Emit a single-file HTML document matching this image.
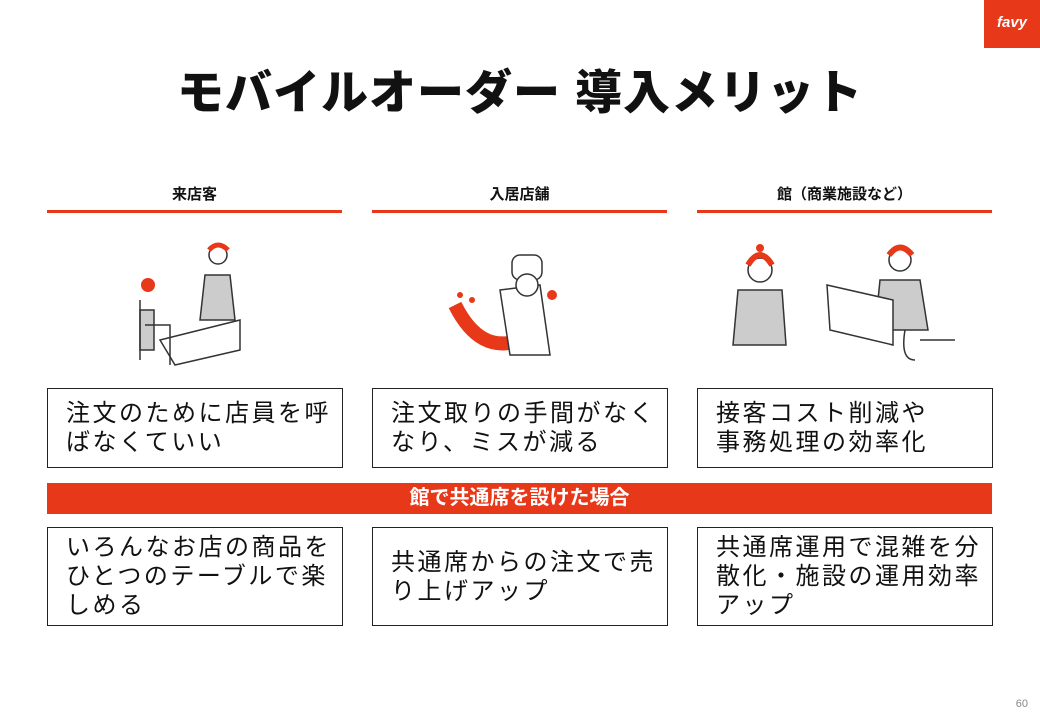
<!DOCTYPE html>
<html><head><meta charset="utf-8"><style>
body{margin:0;width:1040px;height:720px;background:#fff;position:relative;overflow:hidden;font-family:"Liberation Sans","Noto Sans CJK JP",sans-serif;color:#111}
.a{position:absolute}
.logo{left:984px;top:0;width:56px;height:48px;background:#e8381a;color:#fff;font-weight:bold;font-size:15px;text-align:center;line-height:46px;font-style:italic}
.title{left:0;width:1040px;top:54px;text-align:center;font-size:47px;font-weight:900;letter-spacing:1px}
.h{font-size:15px;font-weight:bold;text-align:center;top:183px;width:295px}
.ln{height:3px;background:#e8381a;top:210px;width:295px}
.box{border:1.5px solid #222;box-sizing:border-box;width:296px;font-size:24px;line-height:29px;padding:0 18px;display:flex;align-items:center;letter-spacing:2.5px;white-space:nowrap}
.ban{left:47px;top:483px;width:945px;height:31px;background:#e8381a;color:#fff;font-weight:bold;font-size:20px;text-align:center;line-height:31px}
.pg{right:12px;top:698px;font-size:11px;color:#888}
</style></head><body>
<div class="a logo">favy</div>
<div class="a title">モバイルオーダー 導入メリット</div>
<div class="a h" style="left:47px">来店客</div>
<div class="a h" style="left:372px">入居店舗</div>
<div class="a h" style="left:697px">館（商業施設など）</div>
<div class="a ln" style="left:47px"></div>
<div class="a ln" style="left:372px"></div>
<div class="a ln" style="left:697px"></div>
<svg class="a" style="left:0;top:230px" width="1040" height="150" fill="none" stroke="#333" stroke-width="1.5">
<g>
<path d="M160 110 L240 90 L240 120 L175 135 Z" fill="#fff"/>
<rect x="140" y="80" width="14" height="40" fill="#ccc"/>
<path d="M140 70 L140 130 M145 95 L170 95 L170 135"/>
<circle cx="148" cy="55" r="7" fill="#e8381a" stroke="none"/>
<path d="M205 45 L230 45 L235 90 L200 90 Z" fill="#ccc"/>
<circle cx="218" cy="25" r="9" fill="#fff"/>
<path d="M209 20 Q218 10 228 20" stroke="#e8381a" stroke-width="5"/>
</g>
<g>
<path d="M455 75 Q480 125 520 110" stroke="#e8381a" stroke-width="14"/>
<path d="M500 60 L540 55 L550 125 L510 125 Z" fill="#fff"/>
<rect x="512" y="25" width="30" height="25" rx="8" fill="#fff"/>
<circle cx="527" cy="55" r="11" fill="#fff"/>
<circle cx="460" cy="65" r="3" fill="#e8381a" stroke="none"/>
<circle cx="472" cy="70" r="3" fill="#e8381a" stroke="none"/>
<circle cx="552" cy="65" r="5" fill="#e8381a" stroke="none"/>
</g>
<g>
<path d="M738 60 L782 60 L786 115 L733 115 Z" fill="#ccc"/>
<circle cx="760" cy="40" r="12" fill="#fff"/>
<path d="M748 35 Q760 15 772 35" stroke="#e8381a" stroke-width="6"/>
<circle cx="760" cy="18" r="4" fill="#e8381a" stroke="none"/>
<path d="M880 50 L920 50 L928 100 L875 100 Z" fill="#ccc"/>
<circle cx="900" cy="30" r="11" fill="#fff"/>
<path d="M889 25 Q900 10 912 25" stroke="#e8381a" stroke-width="6"/>
<path d="M827 55 L893 70 L893 115 L830 100 Z" fill="#fff"/>
<path d="M920 110 L955 110 M905 100 Q900 130 915 130"/>
</g>
</svg>
<div class="a box" style="left:47px;top:388px;height:80px"><div>注文のために店員を呼<br>ばなくていい</div></div>
<div class="a box" style="left:372px;top:388px;height:80px"><div>注文取りの手間がなく<br>なり、ミスが減る</div></div>
<div class="a box" style="left:697px;top:388px;height:80px"><div>接客コスト削減や<br>事務処理の効率化</div></div>
<div class="a ban">館で共通席を設けた場合</div>
<div class="a box" style="left:47px;top:527px;height:99px"><div>いろんなお店の商品を<br>ひとつのテーブルで楽<br>しめる</div></div>
<div class="a box" style="left:372px;top:527px;height:99px"><div>共通席からの注文で売<br>り上げアップ</div></div>
<div class="a box" style="left:697px;top:527px;height:99px"><div>共通席運用で混雑を分<br>散化・施設の運用効率<br>アップ</div></div>
<div class="a pg">60</div>
</body></html>
